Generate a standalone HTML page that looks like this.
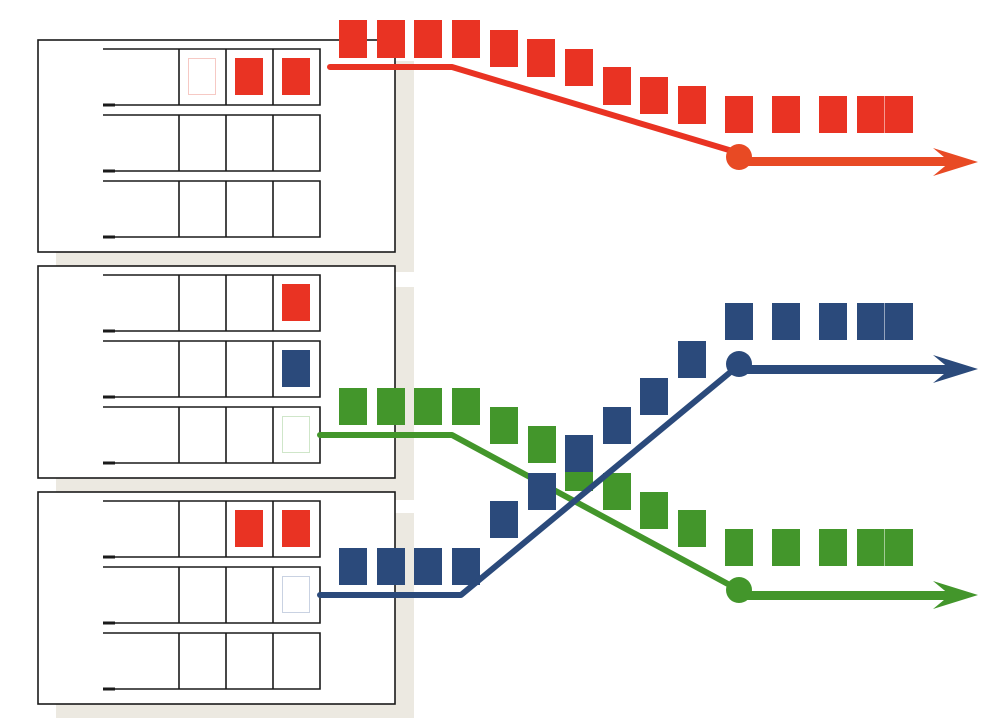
<!DOCTYPE html>
<html><head><meta charset="utf-8"><style>html,body{margin:0;padding:0;background:#fff}svg{display:block}</style></head>
<body>
<svg width="1004" height="718" viewBox="0 0 1004 718" xmlns="http://www.w3.org/2000/svg">
<g fill="#ece9e1">
<rect x="56" y="61" width="358" height="211"/>
<rect x="56" y="287" width="358" height="213"/>
<rect x="56" y="513" width="358" height="205"/>
</g>
<g fill="#fff" stroke="#1a1a1a" stroke-width="1.6">
<rect x="38" y="40" width="357" height="212"/>
<rect x="38" y="266" width="357" height="212"/>
<rect x="38" y="492" width="357" height="212"/>
</g>
<g fill="none" stroke="#1a1a1a" stroke-width="1.6">
<path d="M103 49H320V105H103M179 49V105M226 49V105M273 49V105"/>
<path d="M103 115H320V171H103M179 115V171M226 115V171M273 115V171"/>
<path d="M103 181H320V237H103M179 181V237M226 181V237M273 181V237"/>
<path d="M103 275H320V331H103M179 275V331M226 275V331M273 275V331"/>
<path d="M103 341H320V397H103M179 341V397M226 341V397M273 341V397"/>
<path d="M103 407H320V463H103M179 407V463M226 407V463M273 407V463"/>
<path d="M103 501H320V557H103M179 501V557M226 501V557M273 501V557"/>
<path d="M103 567H320V623H103M179 567V623M226 567V623M273 567V623"/>
<path d="M103 633H320V689H103M179 633V689M226 633V689M273 633V689"/>
</g>
<g stroke="#1a1a1a" stroke-width="3">
<path d="M103 105H115M103 171H115M103 237H115M103 331H115M103 397H115M103 463H115M103 557H115M103 623H115M103 689H115"/>
</g>
<rect x="188.5" y="58.5" width="27" height="36" fill="#fff" stroke="#f6c9c4"/>
<g fill="#e93323">
<rect x="235" y="58" width="28" height="37"/><rect x="282" y="58" width="28" height="37"/>
<rect x="282" y="284" width="28" height="37"/>
<rect x="235" y="510" width="28" height="37"/><rect x="282" y="510" width="28" height="37"/>
</g>
<rect x="282" y="350" width="28" height="37" fill="#2b4a7b"/>
<rect x="282.5" y="416.5" width="27" height="36" fill="#fff" stroke="#cfe6c9"/>
<rect x="282.5" y="576.5" width="27" height="36" fill="#fff" stroke="#c9d2e2"/>
<g fill="#e93323">
<rect x="339" y="20" width="28" height="38"/><rect x="377" y="20" width="28" height="38"/><rect x="414" y="20" width="28" height="38"/><rect x="452" y="20" width="28" height="38"/>
<rect x="490" y="30" width="28" height="37"/><rect x="527" y="39" width="28" height="38"/><rect x="565" y="49" width="28" height="37"/><rect x="603" y="67" width="28" height="38"/><rect x="640" y="77" width="28" height="37"/><rect x="678" y="86" width="28" height="38"/>
<rect x="725" y="96" width="28" height="37"/><rect x="772" y="96" width="28" height="37"/><rect x="819" y="96" width="28" height="37"/><rect x="857" y="96" width="27.5" height="37"/><rect x="885" y="96" width="28" height="37"/>
</g>
<polyline points="330,67 452,67 739,153" fill="none" stroke="#e93323" stroke-width="6" stroke-linecap="round" stroke-linejoin="round"/>
<g fill="#e84a24">
<circle cx="739" cy="157" r="13"/>
<rect x="739" y="157" width="212" height="9"/>
<polygon points="933,148 978,162 933,176 950,162"/>
</g>
<g fill="#43962b">
<rect x="339" y="388" width="28" height="37"/><rect x="377" y="388" width="28" height="37"/><rect x="414" y="388" width="28" height="37"/><rect x="452" y="388" width="28" height="37"/>
<rect x="490" y="407" width="28" height="37"/><rect x="528" y="426" width="28" height="37"/><rect x="565" y="454" width="28" height="37"/><rect x="603" y="473" width="28" height="37"/><rect x="640" y="492" width="28" height="37"/><rect x="678" y="510" width="28" height="37"/>
<rect x="725" y="529" width="28" height="37"/><rect x="772" y="529" width="28" height="37"/><rect x="819" y="529" width="28" height="37"/><rect x="857" y="529" width="27.5" height="37"/><rect x="885" y="529" width="28" height="37"/>
</g>
<polyline points="320,435 452,435 739,590" fill="none" stroke="#43962b" stroke-width="6" stroke-linecap="round" stroke-linejoin="round"/>
<g fill="#43962b">
<circle cx="739" cy="590" r="13"/>
<rect x="739" y="591" width="212" height="9"/>
<polygon points="933,581 978,595 933,609 950,595"/>
</g>
<g fill="#2b4a7b">
<rect x="339" y="548" width="28" height="37"/><rect x="377" y="548" width="28" height="37"/><rect x="414" y="548" width="28" height="37"/><rect x="452" y="548" width="28" height="37"/>
<rect x="490" y="501" width="28" height="37"/><rect x="528" y="473" width="28" height="37"/><rect x="565" y="435" width="28" height="37"/><rect x="603" y="407" width="28" height="37"/><rect x="640" y="378" width="28" height="37"/><rect x="678" y="341" width="28" height="37"/>
<rect x="725" y="303" width="28" height="37"/><rect x="772" y="303" width="28" height="37"/><rect x="819" y="303" width="28" height="37"/><rect x="857" y="303" width="27.5" height="37"/><rect x="885" y="303" width="28" height="37"/>
</g>
<rect x="565" y="472" width="28" height="19" fill="#43962b"/>
<polyline points="320,595 461,595 739,365" fill="none" stroke="#2b4a7b" stroke-width="6" stroke-linecap="round" stroke-linejoin="round"/>
<g fill="#2b4a7b">
<circle cx="739" cy="364" r="13"/>
<rect x="739" y="365" width="212" height="9"/>
<polygon points="933,355 978,369 933,383 950,369"/>
</g>
</svg>
</body></html>
